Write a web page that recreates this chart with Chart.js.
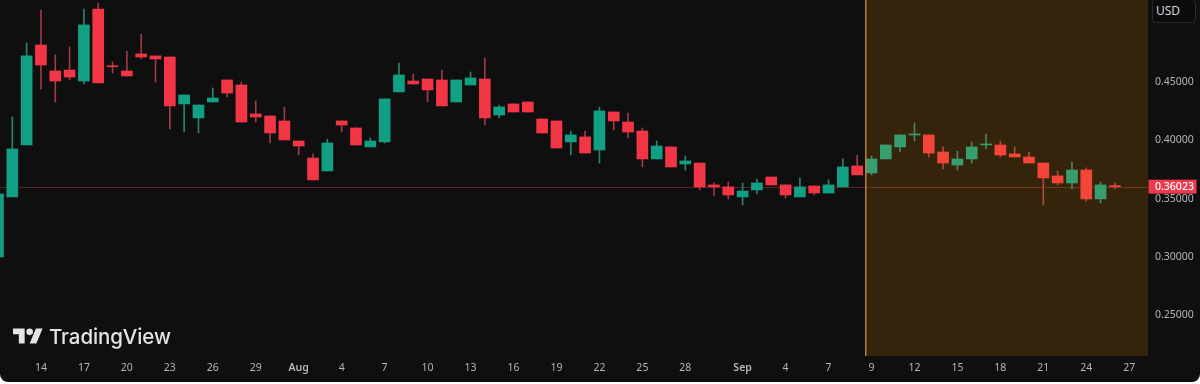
<!DOCTYPE html>
<html>
<head>
<meta charset="utf-8">
<title>Candles</title>
<script src="https://cdn.jsdelivr.net/npm/chart.js@4/dist/chart.umd.min.js"></script>
<style>
  html, body { margin: 0; padding: 0; background: #fff; }
  #wrap { position: relative; width: 1200px; height: 382px; background: #0f0f0f; border-radius: 0 0 8px 8px; overflow: hidden; }
  #usd { position: absolute; left: 1152px; top: -1px; width: 44px; height: 24px; box-sizing: border-box; border: 1px solid #2a2a2a; border-radius: 4px; background: #0b0b0b; color: #d1d4dc; font: 12px/22px "Noto Sans", sans-serif; padding-left: 3px; }
  #logo { position: absolute; left: 13px; top: 328px; width: 30px; height: 16px; }
  #brand { position: absolute; left: 49px; top: 324px; color: #e4e4e4; font: 500 20.5px/26px Inter, sans-serif; letter-spacing: -0.1px; }
</style>
</head>
<body>
<div id="wrap">
  <canvas id="chart"></canvas>
  <div id="usd">USD</div>
  <svg id="logo" viewBox="0 0 36 18"><path fill="#e4e4e4" d="M14 18H7V7H0V0h14v18zM28 18h-8L27.5 0h8L28 18z"/><circle fill="#e4e4e4" cx="20" cy="4" r="4"/></svg>
  <div id="brand">TradingView</div>
</div>
<script>
// Values, one entry per daily bar
const opens = [.2999,.3514,.3960,.4818,.4595,.4603,.4509,.5127,.4635,.4595,.4741,.4724,.4715,.4312,.4192,.4329,.4518,.4475,.4226,.4209,.4166,.3994,.3848,.3737,.4166,.4106,.3943,.3986,.4415,.4509,.4526,.4518,.4329,.4475,.4526,.4217,.4312,.4329,.4183,.4166,.3986,.4029,.3917,.4243,.4157,.4080,.3840,.3943,.3797,.3805,.3617,.3600,.3514,.3574,.3685,.3617,.3514,.3608,.3548,.3600,.3780,.3720,.3840,.3943,.4046,.4046,.3900,.3788,.3840,.3960,.3960,.3883,.3857,.3805,.3694,.3634,.3745,.3497,.3606];
const highs = [.3539,.4200,.4835,.5118,.4732,.4801,.5127,.5178,.4672,.4766,.4912,.4724,.4715,.4389,.4303,.4449,.4518,.4500,.4337,.4209,.4286,.3994,.3883,.4011,.4166,.4106,.4020,.4355,.4663,.4569,.4526,.4603,.4518,.4586,.4706,.4303,.4312,.4329,.4183,.4166,.4080,.4080,.4286,.4243,.4234,.4106,.3994,.3943,.3866,.3805,.3634,.3642,.3634,.3668,.3685,.3617,.3677,.3608,.3660,.3840,.3874,.3866,.3960,.4046,.4149,.4046,.3943,.3908,.3986,.4054,.3994,.3943,.3900,.3805,.3737,.3814,.3763,.3642,.3634];
const lows = [.2999,.3514,.3960,.4440,.4329,.4518,.4483,.4492,.4578,.4552,.4698,.4500,.4097,.4071,.4063,.4329,.4372,.4157,.4157,.3977,.4003,.3874,.3660,.3737,.4071,.3960,.3943,.3977,.4415,.4483,.4329,.4295,.4329,.4475,.4131,.4192,.4243,.4243,.4063,.3934,.3874,.3891,.3805,.4089,.4020,.3771,.3840,.3771,.3745,.3574,.3522,.3497,.3445,.3539,.3617,.3505,.3514,.3531,.3548,.3600,.3703,.3703,.3840,.3900,.3994,.3857,.3754,.3745,.3805,.3926,.3857,.3857,.3805,.3445,.3617,.3582,.3479,.3462,.3582];
const closes = [.3539,.3926,.4724,.4646,.4509,.4543,.4990,.4492,.4631,.4552,.4715,.4698,.4295,.4389,.4303,.4363,.4406,.4157,.4200,.4063,.4003,.3951,.3660,.3977,.4131,.3960,.3994,.4355,.4561,.4483,.4432,.4295,.4518,.4535,.4192,.4286,.4243,.4243,.4063,.3934,.4046,.3891,.4252,.4166,.4071,.3840,.3951,.3771,.3823,.3600,.3600,.3531,.3565,.3634,.3617,.3531,.3600,.3548,.3617,.3771,.3703,.3840,.3960,.4046,.4054,.3891,.3805,.3840,.3943,.3968,.3874,.3857,.3805,.3677,.3634,.3745,.3497,.3617,.36023];

const tickBars = [3,6,9,12,15,18,21,24,27,30,33,36,39,42,45,48,52,55,58,61,64,67,70,73,76,79];
const tickLabels = ['14','17','20','23','26','29','Aug','4','7','10','13','16','19','22','25','28','Sep','4','7','9','12','15','18','21','24','27'];
const monthBars = [21, 52];
const priceTicks = [0.25, 0.30, 0.35, 0.40, 0.45];
const lastPrice = 0.36023;
const shadeFrom = 60.65;

const UP = '#12a085';
const DOWN = '#f23645';
const UP_WICK = '#2f7f70';
const DOWN_WICK = '#a03a45';

const barColor = closes.map((c, i) => c >= opens[i] ? UP : DOWN);
const wickColor = closes.map((c, i) => c >= opens[i] ? UP_WICK : DOWN_WICK);

// labels at the ends must not push the plot area in
const noPadding = (axis) => {
  axis.paddingLeft = axis.paddingRight = axis.paddingTop = axis.paddingBottom = 0;
};

// Price line, shaded range and price tag
const overlays = {
  id: 'overlays',
  beforeDatasetsDraw(chart) {
    const { ctx, chartArea, scales } = chart;
    const y = Math.round(scales.y.getPixelForValue(lastPrice)) + 0.5;
    ctx.save();
    ctx.strokeStyle = '#5c2226';
    ctx.lineWidth = 1;
    ctx.beginPath();
    ctx.moveTo(chartArea.left, y);
    ctx.lineTo(chartArea.right, y);
    ctx.stroke();
    ctx.restore();
  },
  afterDatasetsDraw(chart) {
    const { ctx, chartArea, scales } = chart;
    const x = Math.round(scales.x.getPixelForValue(shadeFrom));
    ctx.save();
    ctx.fillStyle = 'rgba(255,152,0,0.16)';
    ctx.fillRect(x, chartArea.top, chartArea.right - x, chartArea.bottom - chartArea.top);
    ctx.fillStyle = '#b9803c';
    ctx.fillRect(x - 1, chartArea.top, 1.5, chartArea.bottom - chartArea.top);
    ctx.restore();
  },
  afterDraw(chart) {
    const { ctx, chartArea, scales } = chart;
    const y = scales.y.getPixelForValue(lastPrice);
    ctx.save();
    ctx.fillStyle = '#ee3a4c';
    ctx.fillRect(chartArea.right + 0.5, y - 7, 48, 14);
    ctx.fillStyle = '#ffffff';
    ctx.font = '500 10.5px "Noto Sans", sans-serif';
    ctx.textBaseline = 'middle';
    ctx.fillText(lastPrice.toFixed(5), chartArea.right + 7, y + 0.5);
    ctx.restore();
  },
};

new Chart(document.getElementById('chart'), {
  type: 'bar',
  data: {
    datasets: [
      {
        label: 'wick',
        data: opens.map((o, i) => ({ x: i, y: [lows[i], highs[i]] })),
        backgroundColor: wickColor,
        barThickness: 1,
        grouped: false,
        order: 2,
      },
      {
        label: 'body',
        data: opens.map((o, i) => ({ x: i, y: [o, closes[i]] })),
        backgroundColor: barColor,
        barThickness: 11,
        minBarLength: 1,
        grouped: false,
        order: 1,
      },
    ],
  },
  options: {
    responsive: true,
    maintainAspectRatio: false,
    animation: false,
    layout: { padding: 0 },
    plugins: { legend: { display: false }, tooltip: { enabled: false } },
    scales: {
      x: {
        type: 'linear',
        offset: false,
        min: 0.14,
        max: 80.31,
        grid: { display: false, drawTicks: false },
        border: { display: false },
        afterBuildTicks: (axis) => { axis.ticks = tickBars.map(value => ({ value })); },
        afterFit: (axis) => { axis.height = 26; noPadding(axis); },
        ticks: {
          autoSkip: false,
          maxRotation: 0,
          padding: 6,
          color: '#b4b6bb',
          font: (c) => ({
            family: '"Noto Sans", sans-serif',
            size: 10.5,
            weight: c.tick && monthBars.includes(c.tick.value) ? '600' : '400',
          }),
          callback: (value) => tickLabels[tickBars.indexOf(value)],
        },
      },
      y: {
        position: 'right',
        min: 0.2149,
        max: 0.5204,
        grid: { display: false, drawTicks: false },
        border: { display: false },
        afterBuildTicks: (axis) => { axis.ticks = priceTicks.map(value => ({ value })); },
        afterFit: (axis) => { axis.width = 52; noPadding(axis); },
        ticks: {
          padding: 7,
          color: '#b4b6bb',
          font: { family: '"Noto Sans", sans-serif', size: 10.5 },
          callback: (value) => value.toFixed(5),
        },
      },
    },
  },
  plugins: [overlays],
});
</script>
</body>
</html>
